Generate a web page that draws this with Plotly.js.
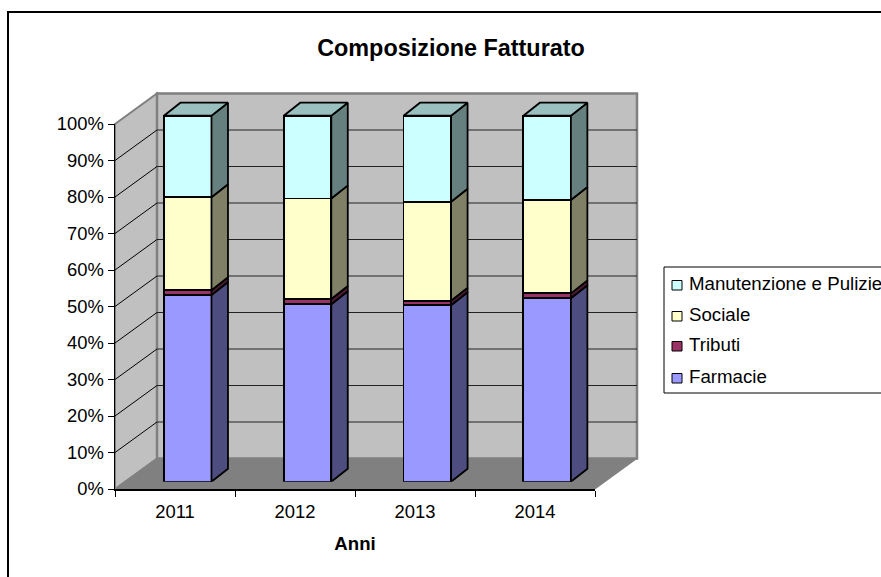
<!DOCTYPE html>
<html>
<head>
<meta charset="utf-8">
<script src="https://cdn.plot.ly/plotly-3.0.1.min.js"></script>
<style>html,body{margin:0;padding:0;background:#fff;overflow:hidden}#chart{width:881px;height:577px}</style>
</head>
<body>
<div id="chart"></div>
<script>
const years = ['2011', '2012', '2013', '2014'];
const farmacie = [51.0, 48.5, 48.2, 50.1];
const tributi = [1.3, 1.4, 1.25, 1.35];
const sociale = [25.4, 27.5, 27.05, 25.5];
const manutenzione = [22.3, 22.6, 23.5, 23.05];
const seriesNames = ['Farmacie', 'Tributi', 'Sociale', 'Manutenzione e Pulizie'];
const seriesValues = [farmacie, tributi, sociale, manutenzione];
const frontColors = ['#9999FF', '#993366', '#FFFFCC', '#CCFFFF'];
const sideColors = ['#4D4D80', '#4D1A33', '#808066', '#668080'];
const topColor = '#99BFBF';
const pctTicks = [0, 10, 20, 30, 40, 50, 60, 70, 80, 90, 100];

const W = 881, H = 577;
const px = v => v / W, py = v => 1 - v / H;
const axisL = 115, axisR = 595, axisB = 489, axisT = 124;
const wallDX = 42, wallDY = 30.5;
const barStep = 119.8, barCenter0 = 187.7, barBase = 481.7, barUnit = 3.66;
const barDepthX = 16.5, barDepthY = 13;
const barWidth = 0.397;
const BAR_Y_MAX = 106;
const FONT = 'Liberation Sans, Arial, sans-serif';

const traces = [];
traces.push({type: 'scatter', mode: 'none', x: years, y: years.map(() => 0), xaxis: 'x', yaxis: 'y', showlegend: false, hoverinfo: 'skip'});

seriesNames.forEach((name, s) => {
  traces.push({
    type: 'bar', name, x: years.map((_, i) => i), y: seriesValues[s], width: barWidth,
    xaxis: 'x2', yaxis: 'y2', showlegend: false,
    marker: {color: frontColors[s], line: {color: '#000', width: 1.8}}
  });
});

const ddx = barDepthX / barStep, ddy = barDepthY / barUnit;
seriesNames.forEach((name, s) => {
  const xs = [], ys = [];
  years.forEach((_, i) => {
    let low = 0;
    for (let k = 0; k < s; k++) low += seriesValues[k][i];
    const high = low + seriesValues[s][i];
    const r = i + barWidth / 2;
    xs.push(r, r + ddx, r + ddx, r, r, null);
    ys.push(low, low + ddy, high + ddy, high, low, null);
  });
  traces.push({type: 'scatter', mode: 'lines', x: xs, y: ys, fill: 'toself', fillcolor: sideColors[s],
    line: {color: '#000', width: 1.8}, xaxis: 'x2', yaxis: 'y2', showlegend: false, hoverinfo: 'skip'});
});
const tx = [], ty = [];
years.forEach((_, i) => {
  const total = seriesValues.reduce((a, v) => a + v[i], 0);
  const l = i - barWidth / 2, r = i + barWidth / 2;
  tx.push(l, l + ddx, r + ddx, r, l, null);
  ty.push(total, total + ddy, total + ddy, total, total, null);
});
traces.push({type: 'scatter', mode: 'lines', x: tx, y: ty, fill: 'toself', fillcolor: topColor,
  line: {color: '#000', width: 1.8}, xaxis: 'x2', yaxis: 'y2', showlegend: false, hoverinfo: 'skip'});

const poly = (pts, fill, lineColor, lineWidth) => ({
  type: 'path', xref: 'paper', yref: 'paper', layer: 'below',
  path: 'M' + pts.map(p => px(p[0]) + ',' + py(p[1])).join('L') + 'Z',
  fillcolor: fill, line: {color: lineColor, width: lineWidth}
});
const seg = (x0, y0, x1, y1, color, width) => ({
  type: 'line', xref: 'paper', yref: 'paper', layer: 'below',
  x0: px(x0), y0: py(y0), x1: px(x1), y1: py(y1), line: {color, width}
});
const shapes = [
  poly([[8, 12], [900, 12], [900, 600], [8, 600]], '#FFFFFF', '#000', 2),
  poly([[axisL, axisT], [axisL + wallDX, axisT - wallDY], [axisL + wallDX, axisB - wallDY], [axisL, axisB]], '#C0C0C0', '#808080', 2),
  poly([[axisL + wallDX, axisT - wallDY], [axisR + wallDX, axisT - wallDY], [axisR + wallDX, axisB - wallDY], [axisL + wallDX, axisB - wallDY]], '#C0C0C0', '#808080', 2.5),
  poly([[axisL, axisB], [axisL + wallDX, axisB - wallDY], [axisR + wallDX, axisB - wallDY], [axisR, axisB]], '#808080', '#808080', 1)
];
pctTicks.slice(1, -1).forEach(t => {
  const y = axisB + (axisT - axisB) * t / 100;
  shapes.push(seg(axisL, y, axisL + wallDX, y - wallDY, '#000', 1));
  shapes.push(seg(axisL + wallDX, y - wallDY, axisR + wallDX, y - wallDY, '#222', 1.2));
});

const annotations = [];
const legendX = 664, legendT = 267, legendB = 393;
shapes.push({type: 'rect', xref: 'paper', yref: 'paper', x0: px(legendX), x1: px(900), y0: py(legendT), y1: py(legendB),
  fillcolor: '#FFF', line: {color: '#000', width: 1}, layer: 'below'});
const legendRows = [283, 314, 344, 376];
[3, 2, 1, 0].forEach((s, row) => {
  const y = legendRows[row];
  shapes.push({type: 'rect', xref: 'paper', yref: 'paper', x0: px(672), x1: px(682), y0: py(y - 2.5), y1: py(y + 7),
    fillcolor: frontColors[s], line: {color: '#000', width: 1}, layer: 'below'});
  annotations.push({xref: 'paper', yref: 'paper', x: px(688), y: py(y), xanchor: 'left', yanchor: 'middle',
    text: seriesNames[s], showarrow: false, font: {family: FONT, size: 18.7, color: '#000'}, align: 'left', borderpad: 0});
});

const layout = {
  width: W, height: H, margin: {l: 0, r: 0, t: 0, b: 0}, paper_bgcolor: '#fff', plot_bgcolor: 'rgba(0,0,0,0)',
  font: {family: FONT, size: 18.4, color: '#000'},
  showlegend: false, hovermode: false, barmode: 'stack',
  title: {text: '<b>Composizione Fatturato</b>', x: px(451), xanchor: 'center', y: py(48), yanchor: 'middle', font: {size: 23.4, color: '#000'}},
  xaxis: {
    domain: [px(axisL), px(axisR)], anchor: 'y', type: 'category', categoryorder: 'array', categoryarray: years,
    range: [-0.5, 3.5], tickson: 'boundaries', ticks: 'outside', ticklen: 6, tickwidth: 1, tickcolor: '#000',
    showline: true, linecolor: '#000', linewidth: 1.5, showgrid: false, zeroline: false, tickfont: {size: 18.4},
    ticklabelstandoff: 5,
    title: {text: '<b>Anni</b>', standoff: 16, font: {size: 18.6}}
  },
  yaxis: {
    domain: [py(axisB), py(axisT)], anchor: 'x', range: [0, 100], tickvals: pctTicks, ticktext: pctTicks.map(v => v + '%'),
    ticks: 'outside', ticklen: 6, tickwidth: 1, tickcolor: '#000', showline: true, linecolor: '#000', linewidth: 1.5,
    showgrid: false, zeroline: false, tickfont: {size: 18.4}
  },
  xaxis2: {domain: [px(barCenter0 - barStep / 2), px(barCenter0 + barStep * 3.5)], anchor: 'y2', range: [-0.5, 3.5], visible: false, fixedrange: true},
  yaxis2: {domain: [py(barBase), py(barBase - BAR_Y_MAX * barUnit)], anchor: 'x2', range: [0, BAR_Y_MAX], visible: false, fixedrange: true},
  shapes, annotations
};
Plotly.newPlot('chart', traces, layout, {displayModeBar: false, staticPlot: true});
</script>
</body>
</html>
